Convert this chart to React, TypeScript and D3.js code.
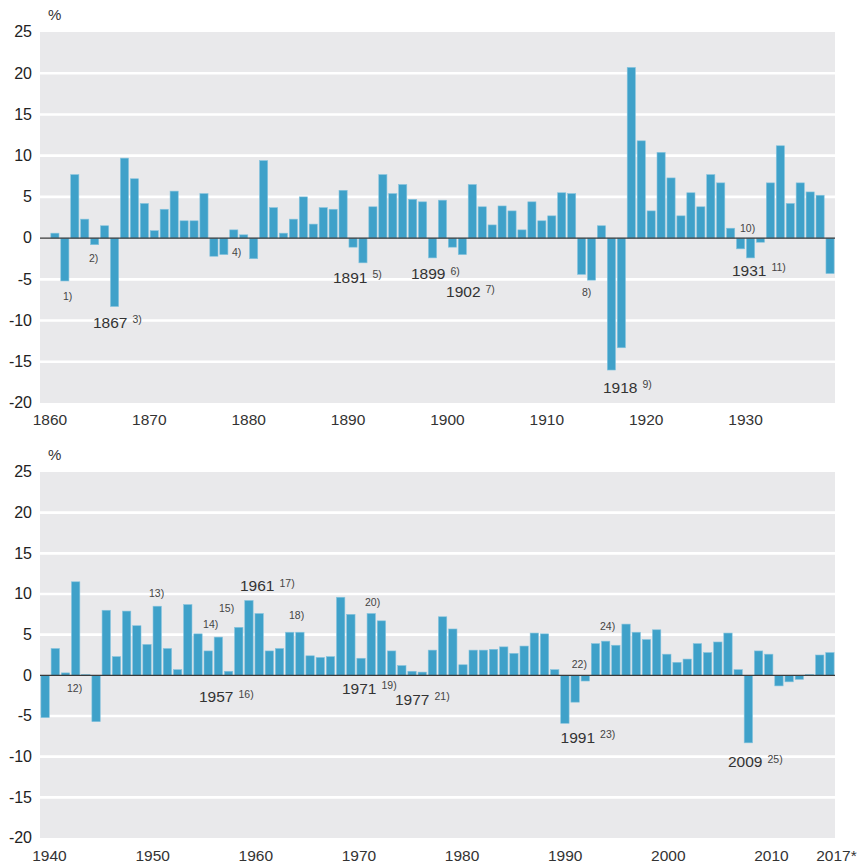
import React from "react";
import * as d3 from "d3";

// ---------- DATA ----------
const topFirstYear = 1860;
const topLastYear = 1939;
const topDataStart = 1861;
const topValues = [
  0.6, -5.2, 7.7, 2.3, -0.8, 1.5, -8.3, 9.7, 7.2, 4.2, // 1861-1870
  0.9, 3.5, 5.7, 2.1, 2.1, 5.4, -2.2, -2.0, 1.0, 0.4, // 1871-1880
  -2.5, 9.4, 3.7, 0.6, 2.3, 5.0, 1.7, 3.7, 3.5, 5.8, // 1881-1890
  -1.1, -3.0, 3.8, 7.7, 5.4, 6.5, 4.7, 4.4, -2.4, 4.6, // 1891-1900
  -1.1, -2.0, 6.5, 3.8, 1.6, 3.9, 3.3, 1.0, 4.4, 2.1, // 1901-1910
  2.7, 5.5, 5.4, -4.4, -5.1, 1.5, -16.0, -13.3, 20.7, 11.8, // 1911-1920
  3.3, 10.4, 7.3, 2.7, 5.5, 3.8, 7.7, 6.7, 1.2, -1.3, // 1921-1930
  -2.4, -0.5, 6.7, 11.2, 4.2, 6.7, 5.6, 5.2, -4.3, // 1931-1939
];

const bottomFirstYear = 1940;
const bottomLastYear = 2017;
const bottomValues = [
  -5.2, 3.3, 0.3, 11.5, 0.1, -5.7, 8.0, 2.3, 7.9, 6.1, // 1940-1949
  3.8, 8.5, 3.3, 0.7, 8.7, 5.1, 3.0, 4.7, 0.5, 5.9, // 1950-1959
  9.2, 7.6, 3.0, 3.3, 5.3, 5.3, 2.4, 2.2, 2.3, 9.6, // 1960-1969
  7.5, 2.1, 7.6, 6.7, 3.0, 1.2, 0.5, 0.4, 3.1, 7.2, // 1970-1979
  5.7, 1.3, 3.1, 3.1, 3.2, 3.5, 2.7, 3.6, 5.2, 5.1, // 1980-1989
  0.7, -5.9, -3.3, -0.7, 3.9, 4.2, 3.7, 6.3, 5.3, 4.4, // 1990-1999
  5.6, 2.6, 1.6, 2.0, 3.9, 2.8, 4.1, 5.2, 0.7, -8.3, // 2000-2009
  3.0, 2.6, -1.3, -0.8, -0.5, 0.1, 2.5, 2.8, // 2010-2017
];

const yTicks = [25, 20, 15, 10, 5, 0, -5, -10, -15, -20];
const yMin = -20;
const yMax = 25;
const topXTicks = ["1860", "1870", "1880", "1890", "1900", "1910", "1920", "1930"];
const bottomXTicks = ["1940", "1950", "1960", "1970", "1980", "1990", "2000", "2010"];
const bottomLastTick = "2017*";
const unitLabel = "%";

// annotations: anchor in data coordinates (year where text starts, value at baseline)
const topNotes = [
  { year: 1862.31, value: -7.5, label: "", note: "1)" },
  { year: 1864.93, value: -2.9, label: "", note: "2)" },
  { year: 1865.33, value: -10.85, label: "1867", note: "3)" },
  { year: 1879.32, value: -2.17, label: "", note: "4)" },
  { year: 1889.48, value: -5.39, label: "1891", note: "5)" },
  { year: 1897.33, value: -5.02, label: "1899", note: "6)" },
  { year: 1900.86, value: -7.2, label: "1902", note: "7)" },
  { year: 1914.54, value: -7.0, label: "", note: "8)" },
  { year: 1916.65, value: -18.73, label: "1918", note: "9)" },
  { year: 1930.44, value: 0.74, label: "", note: "10)" },
  { year: 1929.63, value: -4.54, label: "1931", note: "11)" },
];
const bottomNotes = [
  { year: 1942.65, value: -2.05, label: "", note: "12)" },
  { year: 1950.69, value: 9.63, label: "", note: "13)" },
  { year: 1956.0, value: 5.82, label: "", note: "14)" },
  { year: 1957.56, value: 7.78, label: "", note: "15)" },
  { year: 1955.6, value: -3.31, label: "1957", note: "16)" },
  { year: 1959.62, value: 10.34, label: "1961", note: "17)" },
  { year: 1964.43, value: 6.92, label: "", note: "18)" },
  { year: 1969.63, value: -2.24, label: "1971", note: "19)" },
  { year: 1971.89, value: 8.52, label: "", note: "20)" },
  { year: 1974.83, value: -3.59, label: "1977", note: "21)" },
  { year: 1992.17, value: 0.9, label: "", note: "22)" },
  { year: 1991.08, value: -8.3, label: "1991", note: "23)" },
  { year: 1994.94, value: 5.57, label: "", note: "24)" },
  { year: 2007.5, value: -11.3, label: "2009", note: "25)" },
];

// ---------- STYLE ----------
const FONT = "'Liberation Sans', Arial, Helvetica, sans-serif";
const BAR = "#3fa1c9";
const BAR_EDGE = "#86c4de";
const BG = "#e9e9eb";
const TEXT = "#333333";

type Note = { year: number; value: number; label: string; note: string };

function Panel(props: {
  top: number;
  bottom: number;
  left: number;
  right: number;
  firstYear: number;
  lastYear: number;
  dataStart: number;
  values: number[];
  ticks: string[];
  tickPos: (t: string) => number;
  tickBaseline: number;
  extraTick?: { text: string; x: number };
  notes: Note[];
}) {
  const { top, bottom, left, right, firstYear, lastYear, dataStart, values, ticks, notes } = props;
  const years = d3.range(firstYear, lastYear + 1);
  const x = d3
    .scaleBand<number>()
    .domain(years)
    .range([left, right])
    .paddingInner(0.18)
    .paddingOuter(0.09);
  const xl = d3.scaleLinear().domain([firstYear, lastYear + 1]).range([left, right]);
  const y = d3.scaleLinear().domain([yMin, yMax]).range([bottom, top]);
  const data = values.map((v, i) => ({ year: dataStart + i, v }));

  return (
    <g>
      <rect x={left} y={top} width={right - left} height={bottom - top} fill={BG} />
      {yTicks
        .filter((t) => t !== 0 && t !== yMin && t !== yMax)
        .map((t) => (
          <line key={"g" + t} x1={left} x2={right} y1={y(t)} y2={y(t)} stroke="#ffffff" strokeWidth={2.6} />
        ))}
      {data.map((d) => {
        const y0 = y(0);
        const y1 = y(d.v);
        return (
          <rect
            key={d.year}
            x={x(d.year)!}
            y={Math.min(y0, y1)}
            width={x.bandwidth()}
            height={Math.max(Math.abs(y1 - y0), 0.8)}
            fill={BAR}
            stroke={BAR_EDGE}
            strokeWidth={0.6}
          />
        );
      })}
      <line x1={left} x2={right} y1={y(0)} y2={y(0)} stroke="#3a3a3a" strokeWidth={1.1} />
      {yTicks.map((t) => (
        <text
          key={"y" + t}
          x={left - 8}
          y={y(t) + 5.3}
          textAnchor="end"
          fontSize={16}
          fontFamily={FONT}
          fill="#222"
        >
          {String(t)}
        </text>
      ))}
      <text x={left + 8} y={top - 12} fontSize={15} fontFamily={FONT} fill={TEXT}>
        {unitLabel}
      </text>
      {ticks.map((t) => (
        <text
          key={"x" + t}
          x={props.tickPos(t)}
          y={props.tickBaseline}
          textAnchor="middle"
          fontSize={15.5}
          fontFamily={FONT}
          fill={TEXT}
        >
          {t}
        </text>
      ))}
      {props.extraTick && (
        <text
          x={props.extraTick.x}
          y={props.tickBaseline}
          textAnchor="middle"
          fontSize={15.5}
          fontFamily={FONT}
          fill={TEXT}
        >
          {props.extraTick.text}
        </text>
      )}
      {notes.map((n, i) => {
        const px = xl(n.year);
        const py = y(n.value);
        if (!n.label) {
          return (
            <text key={"n" + i} x={px} y={py} fontSize={10.5} fontFamily={FONT} fill="#444">
              {n.note}
            </text>
          );
        }
        return (
          <text key={"n" + i} x={px} y={py} fontSize={15.5} fontFamily={FONT} fill={TEXT}>
            {n.label}
            <tspan dx={5} dy={-4.5} fontSize={10.5} fill="#444">
              {n.note}
            </tspan>
          </text>
        );
      })}
    </g>
  );
}

export default function App() {
  const W = 858;
  const H = 863;
  const left = 40;
  const right = 835;

  const topLinear = d3.scaleLinear().domain([topFirstYear, topLastYear + 1]).range([left, right]);
  const topTickPos = (t: string) => topLinear(+t + 1);

  const bottomTickScale = d3
    .scaleLinear()
    .domain([+bottomXTicks[0], +bottomXTicks[bottomXTicks.length - 1]])
    .range([49.5, 771.5]);
  const bottomTickPos = (t: string) => bottomTickScale(+t);

  return (
    <svg
      width={W}
      height={H}
      viewBox={`0 0 ${W} ${H}`}
      style={{ position: "absolute", left: 0, top: 0, background: "#ffffff" }}
    >
      <Panel
        top={32}
        bottom={403}
        left={left}
        right={right}
        firstYear={topFirstYear}
        lastYear={topLastYear}
        dataStart={topDataStart}
        values={topValues}
        ticks={topXTicks}
        tickPos={topTickPos}
        tickBaseline={425}
        notes={topNotes}
      />
      <Panel
        top={472}
        bottom={838}
        left={left}
        right={right}
        firstYear={bottomFirstYear}
        lastYear={bottomLastYear}
        dataStart={bottomFirstYear}
        values={bottomValues}
        ticks={bottomXTicks}
        tickPos={bottomTickPos}
        tickBaseline={861}
        extraTick={{ text: bottomLastTick, x: right + 1.5 }}
        notes={bottomNotes}
      />
    </svg>
  );
}
